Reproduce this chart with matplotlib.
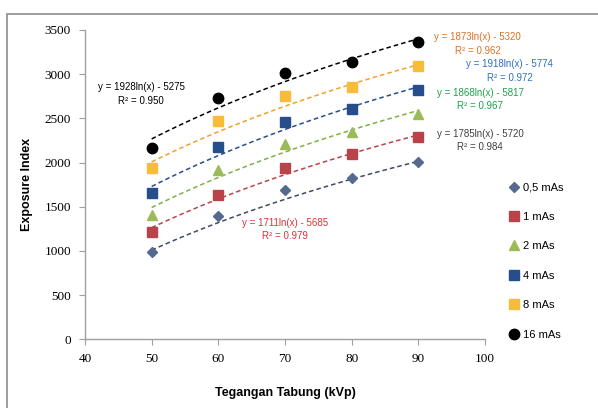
import numpy as np
import matplotlib
matplotlib.use("Agg")
import matplotlib.pyplot as plt
from matplotlib.patches import Rectangle

# Tube voltage (kVp)
kvp = [50, 60, 70, 80, 90]

# Exposure index per tube current-time product
series_labels = ["0,5 mAs", "1 mAs", "2 mAs", "4 mAs", "8 mAs", "16 mAs"]
ei_05 = [985, 1390, 1693, 1826, 2008]
ei_1 = [1219, 1636, 1934, 2102, 2292]
ei_2 = [1409, 1920, 2209, 2344, 2545]
ei_4 = [1655, 2178, 2460, 2602, 2822]
ei_8 = [1940, 2466, 2753, 2856, 3094]
ei_16 = [2170, 2727, 3011, 3140, 3360]

# Logarithmic trendlines y = a ln(x) + b, with R²
trend_a = [1711, 1785, 1868, 1918, 1873, 1928]
trend_b = [-5685, -5720, -5817, -5774, -5320, -5275]
trend_r2 = ["0.979", "0.984", "0.967", "0.972", "0.962", "0.950"]

x_ticks = [40, 50, 60, 70, 80, 90, 100]
y_ticks = [0, 500, 1000, 1500, 2000, 2500, 3000, 3500]

series_values = [ei_05, ei_1, ei_2, ei_4, ei_8, ei_16]
marker_colors = ["#56698E", "#B8444A", "#9BBB59", "#254E8A", "#F7BC3A", "#000000"]
markers = ["D", "s", "^", "s", "s", "o"]
marker_sizes = [5.5, 7.5, 7.5, 7.5, 7.5, 7.5]
line_colors = ["#3F4A66", "#B8444A", "#7FAF45", "#254E8A", "#F0A030", "#000000"]
label_colors = ["#E0303A", "#404040", "#1FA050", "#2F6FC0", "#E07020", "#000000"]
# trendline label centres in data coordinates (kVp, EI)
label_pos = [(70.0, 1241), (99.3, 2246), (99.3, 2711), (103.7, 3035), (98.9, 3341), (48.4, 2775)]

W, H = 598, 408
fig = plt.figure(figsize=(W / 100, H / 100), dpi=100)

# chart outline
fig.add_artist(Rectangle((7 / W, -0.1), 1.2, 1 - 14 / H + 0.1, transform=fig.transFigure,
                         fill=False, edgecolor="#8c8c8c", linewidth=1.2))

ax = fig.add_axes([85 / W, 1 - 339.3 / H, 400 / W, (339.3 - 30) / H])
ax.set_xlim(40, 100)
ax.set_ylim(0, 3500)
ax.set_xticks(x_ticks)
ax.set_yticks(y_ticks)
for s in ["top", "right"]:
    ax.spines[s].set_visible(False)
for s in ["left", "bottom"]:
    ax.spines[s].set_color("#a0a0a0")
    ax.spines[s].set_linewidth(1.0)
ax.tick_params(axis="both", direction="out", length=4, color="#a0a0a0",
               labelsize=9.5, pad=6)
for lab in ax.get_xticklabels() + ax.get_yticklabels():
    lab.set_fontfamily("Liberation Serif")

xs = np.linspace(kvp[0], kvp[-1], 100)
handles = []
for vals, lab, mc, mk, ms, lc, a, b in zip(series_values, series_labels, marker_colors,
                                            markers, marker_sizes, line_colors,
                                            trend_a, trend_b):
    ax.plot(xs, a * np.log(xs) + b, linestyle=(0, (3, 2)), color=lc, linewidth=1.1, zorder=2)
    h, = ax.plot(kvp, vals, linestyle="none", marker=mk, markersize=ms, color=mc,
                 markeredgecolor=mc, label=lab, zorder=3)
    handles.append(h)

for a, b, r2, col, (px, py) in zip(trend_a, trend_b, trend_r2, label_colors, label_pos):
    ax.text(px, py, f"y = {a}ln(x) - {-b}\nR² = {r2}", color=col, fontsize=7,
            ha="center", va="center", linespacing=1.4, family="Liberation Sans",
            zorder=4, clip_on=False)

ax.set_xlabel("Tegangan Tabung (kVp)", fontsize=9, fontweight="bold",
              family="Liberation Sans", labelpad=16)
ax.set_ylabel("Exposure Index", fontsize=9, fontweight="bold",
              family="Liberation Sans", labelpad=8)

fig.legend(handles=handles, labels=series_labels, loc="upper left",
           bbox_to_anchor=(505 / W, 1 - 178 / H), frameon=False,
           prop={"family": "Liberation Sans", "size": 8}, labelspacing=1.75,
           handlelength=0.8, handletextpad=0.4, borderaxespad=0)

fig.savefig("out.png", dpi=100)
